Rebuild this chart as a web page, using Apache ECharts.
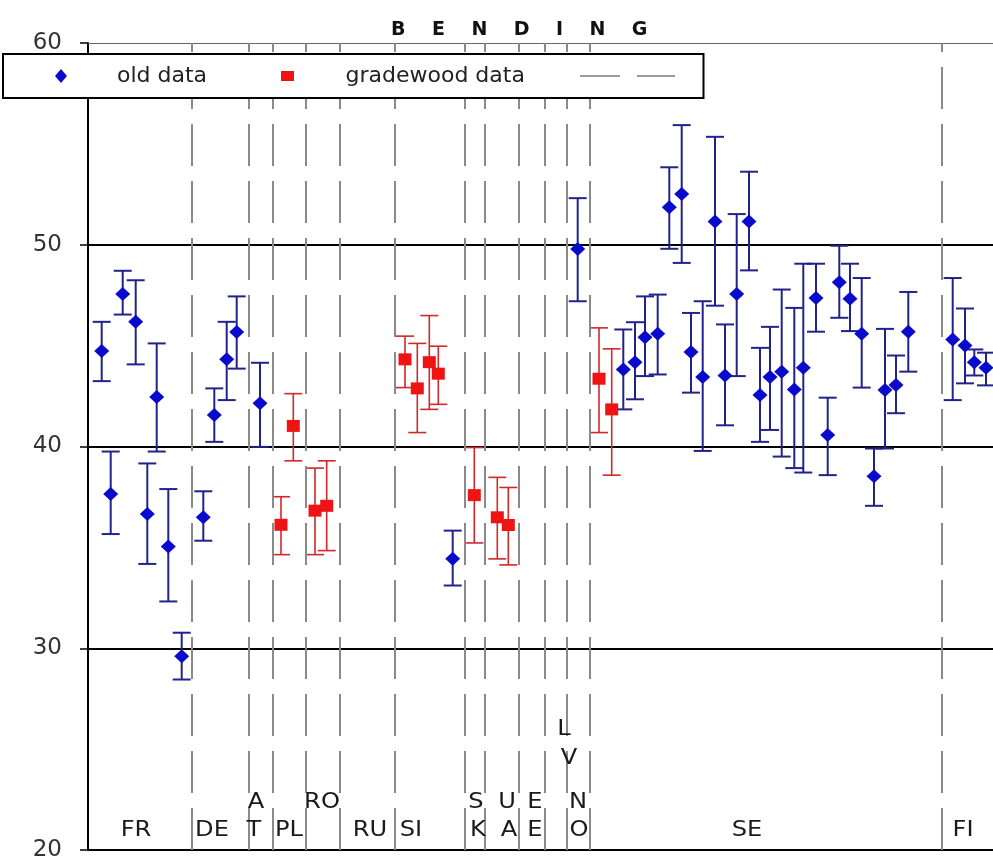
<!DOCTYPE html>
<html>
<head>
<meta charset="utf-8">
<title>Bending</title>
<script src="https://cdn.jsdelivr.net/npm/echarts@6/dist/echarts.min.js"></script>
<style>
  html, body { margin: 0; padding: 0; background: #fff; }
  #chart { width: 993px; height: 859px; }
</style>
</head>
<body>
<div id="chart"></div>
<script>
// Bending strength per country: sample means with min/max error bars.
// x is the sample position along the chart, y the strength value.

// Old data (blue diamonds)
const oldX = [1.37, 2.27, 3.47, 4.77, 5.93, 6.87, 8.03, 9.37,
  11.53, 12.63, 13.87, 14.87, 17.2, 36.47, 48.97,
  53.53, 54.7, 55.7, 56.97, 58.13, 59.37, 60.3, 61.47, 62.7, 63.7, 64.87, 66.1, 67.2,
  68.2, 69.37, 70.63, 71.53, 72.8, 73.97, 75.13, 76.2, 77.37, 78.6, 79.7, 80.8, 82.03,
  86.47, 87.7, 88.63, 89.8];
const oldMean = [44.73, 37.64, 47.56, 46.18, 36.65, 42.45, 35.04, 29.6,
  36.49, 41.56, 44.32, 45.68, 42.14, 34.43, 49.79,
  43.82, 44.18, 45.42, 45.59, 51.86, 52.52, 44.68, 43.44, 51.15, 43.52, 47.56, 51.15, 42.55,
  43.44, 43.71, 42.83, 43.9, 47.36, 40.57, 48.14, 47.32, 45.59, 38.52, 42.8, 43.05, 45.69,
  45.3, 45.01, 44.18, 43.9];
const oldLow = [43.24, 35.66, 46.54, 44.07, 34.18, 39.75, 32.32, 28.45,
  35.33, 40.23, 42.3, 43.86, 39.98, 33.11, 47.2,
  41.84, 42.34, 43.49, 43.57, 49.8, 49.1, 42.67, 39.78, 46.98, 41.05, 43.49, 48.73, 40.23,
  40.82, 39.5, 38.93, 38.71, 45.69, 38.58, 46.38, 45.72, 42.92, 37.06, 39.9, 41.65, 43.71,
  42.3, 43.13, 43.52, 43.03];
const oldHigh = [46.18, 39.75, 48.71, 48.24, 39.16, 45.11, 37.89, 30.77,
  37.78, 42.88, 46.18, 47.44, 44.15, 35.83, 52.31,
  45.8, 46.16, 47.44, 47.53, 53.84, 55.93, 46.62, 47.2, 55.35, 46.05, 51.52, 53.62, 44.89,
  45.93, 47.78, 46.87, 49.06, 49.06, 42.42, 49.95, 49.06, 48.35, 39.9, 45.83, 44.51, 47.66,
  48.35, 46.84, 44.81, 44.65];

// Gradewood data (red squares)
const gwX = [19.3, 20.53, 22.7, 23.87, 31.7, 32.93, 34.13, 35.03, 38.63, 40.93, 42.03, 51.1, 52.37];
const gwMean = [36.12, 41.02, 36.82, 37.06, 44.32, 42.88, 44.18, 43.61, 37.59, 36.49, 36.11, 43.36, 41.84];
const gwLow = [34.64, 39.29, 34.64, 34.84, 42.92, 40.69, 41.84, 42.09, 35.22, 34.43, 34.13, 40.69, 38.58];
const gwHigh = [37.51, 42.62, 38.93, 39.29, 45.47, 45.11, 46.49, 44.97, 39.95, 38.47, 37.97, 45.88, 44.84];

// Borders between the country groups
const dividerX = [10.37, 16.03, 18.47, 21.77, 25.2, 30.63, 37.63, 39.7, 43.1, 45.7, 47.87, 50.2, 85.37];

// Country codes, some split over two lines in narrow columns
const labelText = ['FR', 'DE', 'A', 'T', 'PL', 'RO', 'RU', 'SI', 'S', 'K', 'U', 'A', 'E', 'E', 'L', 'V', 'N', 'O', 'SE', 'FI'];
const labelX = [4.8, 12.4, 16.8, 16.6, 20.1, 23.4, 28.2, 32.3, 38.8, 39.0, 41.9, 42.1, 44.7, 44.7, 47.6, 48.1, 49.0, 49.1, 65.9, 87.5];
const labelY = [20.97, 20.97, 22.33, 20.97, 20.97, 22.33, 20.97, 20.97, 22.33, 20.97, 22.33, 20.97, 22.33, 20.97, 25.95, 24.51, 22.33, 20.97, 20.97, 20.97];

// Axis settings
const yMin = 20, yMax = 60, yStep = 10;
const xMin = 0, xMax = 90.5;

const FONT = '"DejaVu Sans", Verdana, sans-serif';

function errorBar(color, width) {
  return function (params, api) {
    const x = api.value(0);
    const top = api.coord([x, api.value(2)]);
    const bot = api.coord([x, api.value(1)]);
    const half = 9;
    const style = { stroke: color, lineWidth: width, fill: null };
    return {
      type: 'group',
      children: [
        { type: 'line', shape: { x1: top[0], y1: top[1], x2: bot[0], y2: bot[1] }, style: style },
        { type: 'line', shape: { x1: top[0] - half, y1: top[1], x2: top[0] + half, y2: top[1] }, style: style },
        { type: 'line', shape: { x1: bot[0] - half, y1: bot[1], x2: bot[0] + half, y2: bot[1] }, style: style }
      ]
    };
  };
}

const legendText = { fontFamily: FONT, fontSize: 22, color: '#222', lineHeight: 24 };

const chart = echarts.init(document.getElementById('chart'), null, { renderer: 'canvas' });

chart.setOption({
  backgroundColor: '#fff',
  animation: false,
  title: {
    text: 'B    E    N    D    I    N    G',
    left: 386,
    top: 16,
    textStyle: { fontFamily: FONT, fontSize: 19, fontWeight: 900, color: '#111' }
  },
  legend: [
    {
      // marker legend inside a framed white box
      left: 3,
      top: 54,
      orient: 'horizontal',
      padding: [10, 142, 10, 52],
      itemGap: 55,
      itemWidth: 14,
      itemHeight: 14,
      backgroundColor: '#fff',
      borderColor: '#000',
      borderWidth: 2,
      borderRadius: 0,
      selectedMode: false,
      z: 6,
      data: [
        { name: 'old data', icon: 'path://M6,0L12,7L6,14L0,7Z' },
        { name: 'gradewood data', icon: 'path://M0,0M0,14M0,2h13v10h-13z' }
      ],
      formatter: function (name) {
        return name === 'old data' ? '{s| }{o|old data}' : '{t| }{g|gradewood data}';
      },
      textStyle: Object.assign({}, legendText, {
        rich: {
          s: Object.assign({ width: 44 }, legendText),
          t: Object.assign({ width: 46 }, legendText),
          o: Object.assign({ width: 109 }, legendText),
          g: Object.assign({ width: 216 }, legendText)
        }
      })
    },
    {
      // dashed key for the country borders
      left: 580,
      top: 75,
      orient: 'horizontal',
      padding: 0,
      itemWidth: 95,
      itemHeight: 2,
      selectedMode: false,
      z: 7,
      data: [
        { name: 'dividers', icon: 'path://M0,0h40v2h-40zM57,0h38v2h-38z', itemStyle: { color: '#9a9a9a' } }
      ],
      formatter: function () { return ''; },
      textStyle: { fontSize: 12, lineHeight: 14 }
    }
  ],
  grid: {
    left: 88, right: 0, top: 43, bottom: 9,
    containLabel: false,
    outerBoundsMode: 'none'
  },
  xAxis: [
    {
      type: 'value', min: xMin, max: xMax, position: 'bottom',
      axisLine: { show: true, onZero: false, lineStyle: { color: '#000', width: 2 } },
      axisTick: { show: false }, axisLabel: { show: false }, splitLine: { show: false }
    },
    {
      type: 'value', min: xMin, max: xMax, position: 'top',
      axisLine: { show: true, onZero: false, lineStyle: { color: '#666', width: 1 } },
      axisTick: { show: false }, axisLabel: { show: false }, splitLine: { show: false }
    }
  ],
  yAxis: {
    type: 'value', min: yMin, max: yMax, interval: yStep,
    axisLine: { show: true, onZero: false, lineStyle: { color: '#000', width: 2 } },
    axisTick: { show: true, inside: false, length: 8, lineStyle: { color: '#000', width: 1.5 } },
    axisLabel: { color: '#333', fontFamily: FONT, fontSize: 23, margin: 26 },
    splitLine: { show: true, showMinLine: false, showMaxLine: false, lineStyle: { color: '#000', width: 2 } }
  },
  series: [
    {
      name: 'dividers',
      type: 'line',
      data: [],
      symbol: 'none',
      itemStyle: { color: '#9a9a9a' },
      lineStyle: { color: '#9a9a9a', width: 2 },
      markLine: {
        silent: true,
        symbol: ['none', 'none'],
        label: { show: false },
        lineStyle: { color: '#8a8a8a', width: 2, type: [42, 15] },
        emphasis: { disabled: true },
        data: dividerX.map(function (x) { return { xAxis: x }; })
      }
    },
    {
      name: 'old data range',
      type: 'custom',
      renderItem: errorBar('#22228c', 2),
      encode: { x: 0, y: [1, 2] },
      data: oldX.map(function (x, i) { return [x, oldLow[i], oldHigh[i]]; }),
      z: 3
    },
    {
      name: 'gradewood data range',
      type: 'custom',
      renderItem: errorBar('#d0282c', 1.6),
      encode: { x: 0, y: [1, 2] },
      data: gwX.map(function (x, i) { return [x, gwLow[i], gwHigh[i]]; }),
      z: 3
    },
    {
      name: 'old data',
      type: 'scatter',
      symbol: 'diamond',
      symbolSize: [15, 14],
      itemStyle: { color: '#0a0acc', opacity: 1 },
      data: oldX.map(function (x, i) { return [x, oldMean[i]]; }),
      z: 4
    },
    {
      name: 'gradewood data',
      type: 'scatter',
      symbol: 'rect',
      symbolSize: [13, 12],
      itemStyle: { color: '#ee1414', opacity: 1 },
      data: gwX.map(function (x, i) { return [x, gwMean[i]]; }),
      z: 4
    },
    {
      name: 'country codes',
      type: 'custom',
      silent: true,
      encode: { x: 0, y: 1 },
      data: labelX.map(function (x, i) { return [x, labelY[i]]; }),
      renderItem: function (params, api) {
        const p = api.coord([api.value(0), api.value(1)]);
        return {
          type: 'text',
          x: p[0], y: p[1],
          scaleX: 1.15,
          style: {
            text: labelText[params.dataIndex],
            fill: '#1a1a1a',
            font: '21px ' + FONT,
            align: 'center',
            verticalAlign: 'middle'
          }
        };
      },
      z: 5
    }
  ]
});
</script>
</body>
</html>
